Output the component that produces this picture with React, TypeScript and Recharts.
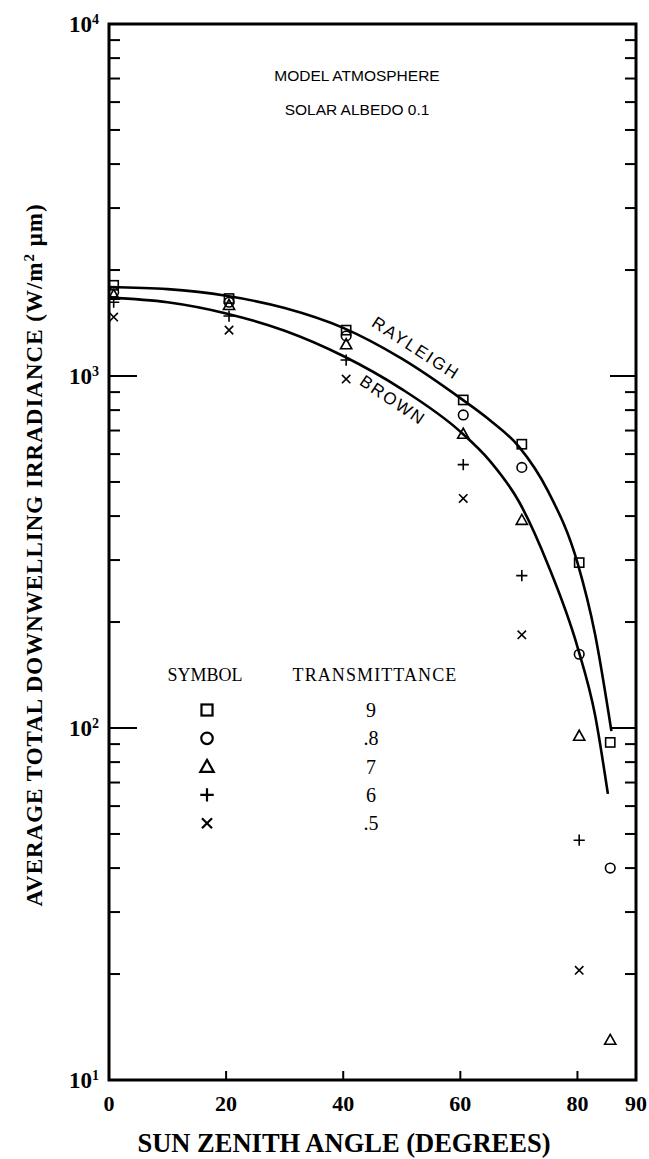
import React from "react";
import { ComposedChart, XAxis, YAxis, Line, Scatter, ReferenceArea } from "recharts";

// sun zenith angle of the measured points (deg)
const ANGLES = [0.8, 20.5, 40.5, 60.5, 70.5, 80.3, 85.6];
// average total downwelling irradiance per transmittance
const T90 = [1810, 1660, 1350, 855, 640, 295, 91];
const T80 = [1730, 1620, 1300, 775, 550, 162, 40];
const T70 = [1700, 1590, 1230, 685, 390, 95, 13];
const T60 = [1620, 1480, 1110, 560, 271, 48];
const T50 = [1470, 1350, 980, 449, 184, 20.5];

// model curves
const RAYLEIGH_X = [0, 10, 20, 30, 40, 50, 60, 65, 70, 75, 80, 83, 85.8];
const RAYLEIGH_Y = [1790, 1765, 1690, 1560, 1370, 1120, 865, 750, 630, 470, 295, 185, 98];
const BROWN_X = [0, 10, 20, 30, 40, 50, 60, 65, 70, 75, 80, 83, 85.2];
const BROWN_Y = [1670, 1620, 1506, 1345, 1140, 918, 695, 575, 440, 290, 170, 109, 65];

const X_TICKS = [0, 20, 40, 60, 80, 90];
const Y_TICKS = [
  10, 20, 30, 40, 50, 60, 70, 80, 90,
  100, 200, 300, 400, 500, 600, 700, 800, 900,
  1000, 2000, 3000, 4000, 5000, 6000, 7000, 8000, 9000,
  10000,
];
const DECADES = [10, 100, 1000, 10000];

const LEGEND_KINDS = ["square", "circle", "triangle", "plus", "cross"];
const LEGEND_LABELS = ["9", ".8", "7", "6", ".5"];

const SERIF = "'Liberation Serif', 'DejaVu Serif', serif";
const SANS = "'Liberation Sans', Arial, sans-serif";

const pts = (xs: number[], ys: number[]) => ys.map((y, i) => ({ x: xs[i], y }));

function Marker({ kind, cx, cy, s = 1, w = 1.6 }: any) {
  const st = { fill: "none", stroke: "#000", strokeWidth: w };
  switch (kind) {
    case "square":
      return <rect x={cx - 4.6 * s} y={cy - 4.6 * s} width={9.2 * s} height={9.2 * s} {...st} />;
    case "circle":
      return <circle cx={cx} cy={cy} r={4.8 * s} {...st} />;
    case "triangle":
      return (
        <path
          d={`M${cx},${cy - 5.6 * s} L${cx + 5.6 * s},${cy + 4.4 * s} L${cx - 5.6 * s},${cy + 4.4 * s} Z`}
          {...st}
        />
      );
    case "plus":
      return (
        <path
          d={`M${cx - 5.6 * s},${cy} H${cx + 5.6 * s} M${cx},${cy - 5.6 * s} V${cy + 5.6 * s}`}
          {...st}
        />
      );
    default:
      return (
        <path
          d={`M${cx - 4.2 * s},${cy - 4.2 * s} L${cx + 4.2 * s},${cy + 4.2 * s} M${cx + 4.2 * s},${cy - 4.2 * s} L${cx - 4.2 * s},${cy + 4.2 * s}`}
          {...st}
        />
      );
  }
}

const shapeOf = (kind: string) => (p: any) => <Marker kind={kind} cx={p.cx} cy={p.cy} />;

function XTick({ x, y, payload }: any) {
  const v = payload.value;
  return (
    <g>
      {v > 0 && v < 90 && <line x1={x} y1={y} x2={x} y2={y - 9} stroke="#000" strokeWidth={2} />}
      <text x={x} y={y + 31} textAnchor="middle" fontFamily={SERIF} fontWeight="bold" fontSize={22} fill="#000">
        {v}
      </text>
    </g>
  );
}

function YTickLeft({ x, y, payload }: any) {
  const v = payload.value;
  const major = DECADES.includes(v);
  return (
    <g>
      <line x1={x} y1={y} x2={x + (major ? 28 : 11)} y2={y} stroke="#000" strokeWidth={2} />
      {major && (
        <text x={x - 10} y={y + 8} textAnchor="end" fontFamily={SERIF} fontWeight="bold" fontSize={23} fill="#000">
          10
          <tspan dy={-8} fontSize={14}>
            {Math.round(Math.log10(v))}
          </tspan>
        </text>
      )}
    </g>
  );
}

function YTickRight({ x, y, payload }: any) {
  const major = DECADES.includes(payload.value);
  return <line x1={x} y1={y} x2={x - (major ? 26 : 11)} y2={y} stroke="#000" strokeWidth={2} />;
}

export default function App() {
  const W = 649;
  const H = 1159;
  return (
    <div style={{ position: "absolute", left: 0, top: 0, width: W, height: H, background: "#fff" }}>
      <ComposedChart width={W} height={H} margin={{ top: 24, right: 3, bottom: 49, left: 49 }}>
        <XAxis
          xAxisId="b"
          type="number"
          dataKey="x"
          domain={[0, 90]}
          ticks={X_TICKS}
          interval={0}
          tickSize={0}
          tickMargin={0}
          axisLine={false}
          tickLine={false}
          tick={<XTick />}
          height={30}
          allowDataOverflow
        />
        <YAxis
          yAxisId="l"
          type="number"
          dataKey="y"
          scale="log"
          domain={[10, 10000]}
          ticks={Y_TICKS}
          interval={0}
          width={60}
          tickSize={0}
          tickMargin={0}
          axisLine={false}
          tickLine={false}
          tick={<YTickLeft />}
          allowDataOverflow
        />
        <YAxis
          yAxisId="r"
          orientation="right"
          type="number"
          scale="log"
          domain={[10, 10000]}
          ticks={Y_TICKS}
          interval={0}
          width={10}
          tickSize={0}
          tickMargin={0}
          axisLine={false}
          tickLine={false}
          tick={<YTickRight />}
          allowDataOverflow
        />
        <ReferenceArea
          xAxisId="b"
          yAxisId="l"
          x1={0}
          x2={90}
          y1={10}
          y2={10000}
          fill="none"
          stroke="#000"
          strokeWidth={3}
          ifOverflow="visible"
        />
        <Line
          xAxisId="b"
          yAxisId="l"
          data={pts(RAYLEIGH_X, RAYLEIGH_Y)}
          dataKey="y"
          type="monotone"
          dot={false}
          stroke="#000"
          strokeWidth={2.6}
          isAnimationActive={false}
        />
        <Line
          xAxisId="b"
          yAxisId="l"
          data={pts(BROWN_X, BROWN_Y)}
          dataKey="y"
          type="monotone"
          dot={false}
          stroke="#000"
          strokeWidth={2.6}
          isAnimationActive={false}
        />
        <Scatter xAxisId="b" yAxisId="l" data={pts(ANGLES, T90)} dataKey="y" shape={shapeOf("square")} isAnimationActive={false} />
        <Scatter xAxisId="b" yAxisId="l" data={pts(ANGLES, T80)} dataKey="y" shape={shapeOf("circle")} isAnimationActive={false} />
        <Scatter xAxisId="b" yAxisId="l" data={pts(ANGLES, T70)} dataKey="y" shape={shapeOf("triangle")} isAnimationActive={false} />
        <Scatter xAxisId="b" yAxisId="l" data={pts(ANGLES, T60)} dataKey="y" shape={shapeOf("plus")} isAnimationActive={false} />
        <Scatter xAxisId="b" yAxisId="l" data={pts(ANGLES, T50)} dataKey="y" shape={shapeOf("cross")} isAnimationActive={false} />
      </ComposedChart>

      {/* titles, annotations and symbol table */}
      <svg width={W} height={H} style={{ position: "absolute", left: 0, top: 0, pointerEvents: "none" }}>
        <text
          x={42}
          y={555}
          transform="rotate(-90 42 555)"
          textAnchor="middle"
          fontFamily={SERIF}
          fontWeight="bold"
          fontSize={23}
          letterSpacing={1}
          fill="#000"
        >
          AVERAGE TOTAL DOWNWELLING IRRADIANCE (W/m
          <tspan dy={-8} fontSize={15}>2</tspan>
          <tspan dy={8}> μm)</tspan>
        </text>
        <text x={344} y={1152} textAnchor="middle" fontFamily={SERIF} fontWeight="bold" fontSize={26.5} fill="#000">
          SUN ZENITH ANGLE (DEGREES)
        </text>

        <text x={357} y={81} textAnchor="middle" fontFamily={SANS} fontSize={15.5} fill="#000">
          MODEL ATMOSPHERE
        </text>
        <text x={357} y={115} textAnchor="middle" fontFamily={SANS} fontSize={15.5} fill="#000">
          SOLAR ALBEDO 0.1
        </text>

        <text
          x={416}
          y={354}
          transform="rotate(33 416 348)"
          textAnchor="middle"
          fontFamily={SANS}
          fontSize={17}
          letterSpacing={2}
          fill="#000"
        >
          RAYLEIGH
        </text>
        <text
          x={393}
          y={406}
          transform="rotate(34 393 400)"
          textAnchor="middle"
          fontFamily={SANS}
          fontSize={17}
          letterSpacing={2}
          fill="#000"
        >
          BROWN
        </text>

        <text x={205} y={681} textAnchor="middle" fontFamily={SERIF} fontSize={18} fill="#000">
          SYMBOL
        </text>
        <text x={375} y={681} textAnchor="middle" fontFamily={SERIF} fontSize={18} letterSpacing={1.1} fill="#000">
          TRANSMITTANCE
        </text>
        {LEGEND_KINDS.map((k, i) => {
          const cy = 710 + i * 28.3;
          return (
            <g key={k}>
              <Marker kind={k} cx={207} cy={cy} s={1.2} w={2.2} />
              <text x={371} y={cy + 7} textAnchor="middle" fontFamily={SERIF} fontSize={20} fill="#000">
                {LEGEND_LABELS[i]}
              </text>
            </g>
          );
        })}
      </svg>
    </div>
  );
}
